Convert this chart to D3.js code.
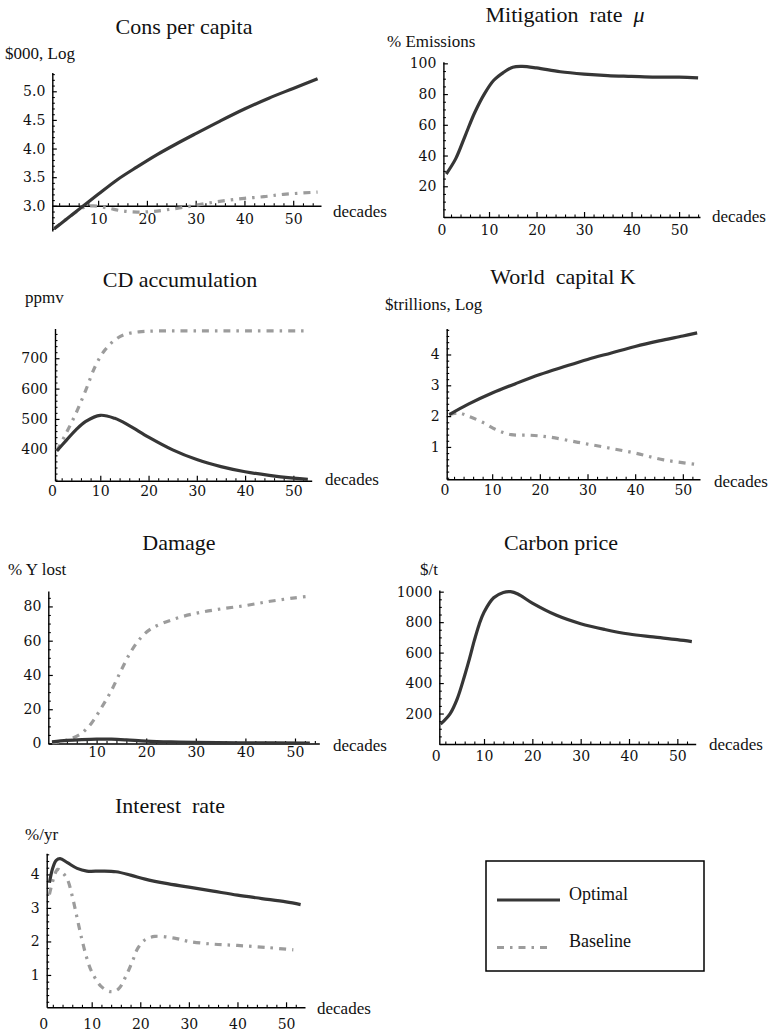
<!DOCTYPE html>
<html><head><meta charset="utf-8">
<script src="https://cdn.jsdelivr.net/npm/d3@7"></script>
<style>
body{margin:0;background:#fff}
text{font-family:"Liberation Serif","Times New Roman",serif;fill:#111}
text.tk{font-family:"DejaVu Serif",serif;font-size:14px;fill:#111}
</style>
</head><body>
<svg id="chart" width="768" height="1034"></svg>
<script>
// ---------------- DATA ----------------
// Panel 1: Consumption per capita ($000, log)
const consOptDecades = [1,4,7,10,14,18,22,26,30,35,40,45,50,55];
const consOptimal    = [2.6,2.8,3.0,3.2,3.46,3.68,3.89,4.08,4.26,4.48,4.69,4.88,5.05,5.22];
const consBaseDecades = [1,4,7,9,12,15,18,21,24,28,32,36,40,44,48,55];
const consBaseline    = [2.6,2.8,2.97,3.0,2.96,2.91,2.89,2.9,2.93,2.98,3.04,3.09,3.13,3.16,3.2,3.24];
const consYTicks = [3.0,3.5,4.0,4.5,5.0];

// Panel 2: Mitigation rate (% emissions)
const mitiDecades = [1,3,5,7,9,11,13,15,17,20,25,30,35,40,45,50,54];
const mitiOptimal = [28,38,53,68,80,89,94,97.5,98,97,94.5,93,92,91.5,91,91,90.5];
const mitiYTicks = [20,40,60,80,100];

// Panel 3: CO2 accumulation (ppmv)
const cdOptDecades = [1,3,5,7,10,13,16,20,25,30,35,40,45,50,53];
const cdOptimal    = [395,430,465,492,512,502,478,440,398,366,343,326,314,305,301];
const cdBaseDecades = [1,3,5,7,9,11,13,15,18,22,30,40,53];
const cdBaseline    = [395,455,520,595,675,728,760,778,787,790,790,790,790];
const cdYTicks = [400,500,600,700];

// Panel 4: World capital K ($trillions, log)
const kOptDecades = [1,5,10,15,20,25,30,35,40,45,50,53];
const kOptimal    = [2.05,2.39,2.75,3.06,3.35,3.6,3.84,4.05,4.26,4.44,4.6,4.7];
const kBaseDecades = [1,3,5,8,11,14,18,22,28,34,40,46,53];
const kBaseline    = [2.05,2.1,2.0,1.8,1.55,1.4,1.38,1.32,1.15,0.98,0.8,0.58,0.43];
const kYTicks = [1,2,3,4];

// Panel 5: Damage (% Y lost)
const dmgOptDecades = [1,4,7,10,13,16,20,25,30,40,53];
const dmgOptimal    = [1,1.8,2.3,2.6,2.5,2.1,1.4,0.9,0.6,0.4,0.3];
const dmgBaseDecades = [1,3,5,7,9,11,13,15,17,19,21,25,30,35,40,45,50,53];
const dmgBaseline    = [0.5,1.2,3,6,12,21,31,43,54,62,67,72,76,78.5,80.5,83,85,86];
const dmgYTicks = [0,20,40,60,80];

// Panel 6: Carbon price ($/t)
const cpDecades = [1,3,4.5,6,7,8,9,10,12,14,15.5,17,20,25,30,35,40,45,50,53];
const cpOptimal = [130,200,300,450,560,680,785,865,960,995,1000,985,925,845,790,752,722,703,685,672];
const cpYTicks = [200,400,600,800,1000];

// Panel 7: Interest rate (%/yr)
const irOptDecades = [1.3,2,2.7,3.5,5,7,9,12,15,18,21,25,30,35,40,45,50,53];
const irOptimal    = [3.75,4.2,4.42,4.47,4.35,4.18,4.1,4.1,4.08,3.98,3.86,3.74,3.62,3.5,3.38,3.28,3.18,3.1];
const irBaseDecades = [1.3,2.2,3,4,5,6,7,8,9,10,12,14,15.5,17,18.5,19.5,21,23,27,30,35,40,46,51.5];
const irBaseline    = [3.4,3.9,4.15,4.05,3.85,3.35,2.7,2.05,1.5,1.1,0.65,0.5,0.58,0.95,1.45,1.8,2.05,2.15,2.1,2.0,1.92,1.88,1.82,1.75];
const irYTicks = [1,2,3,4];

const xTicksAll = [0,10,20,30,40,50];
const xTicksNoZero = [10,20,30,40,50];
const seriesNames = ["Optimal","Baseline"];
const xAxisName = "decades";

// ---------------- LAYOUT ----------------
const zip = (xs, ys) => xs.map((d,i) => [d, ys[i]]);
const panels = [
  {title:"Cons per capita", unit:"$000, Log", tx:184, ty:34, ux:5, uy:59,
   xDom:[0.6,55.7], xRng:[52.3,321], yDom:[2.56,5.33], yRng:[231,72.4], xAt:3.0,
   yTicks:consYTicks, yMinor:0.1, yFmt:d3.format(".1f"), xTicks:xTicksNoZero, xPad:8, dx:333, dy:212,
   base:zip(consBaseDecades,consBaseline), opt:zip(consOptDecades,consOptimal)},
  {title:"Mitigation  rate  ", mu:true, unit:"% Emissions", tx:565, ty:22, ux:387, uy:47,
   xDom:[0.4,54.4], xRng:[443.4,700], yDom:[0,101], yRng:[217,61.8], xAt:0,
   yTicks:mitiYTicks, yMinor:5, yFmt:d3.format("d"), xTicks:xTicksAll, xPad:8, dx:712, dy:217,
   base:null, opt:zip(mitiDecades,mitiOptimal)},
  {title:"CD accumulation", unit:"ppmv", tx:180, ty:287, ux:25, uy:303,
   xDom:[0.62,53.8], xRng:[55,311.7], yDom:[296.5,798], yRng:[480.7,328.5], xAt:296.5,
   yTicks:cdYTicks, yMinor:20, yFmt:d3.format("d"), xTicks:xTicksAll, xPad:5, dx:325, dy:480,
   base:zip(cdBaseDecades,cdBaseline), opt:zip(cdOptDecades,cdOptimal)},
  {title:"World  capital K", unit:"$trillions, Log", tx:563, ty:284, ux:385, uy:310,
   xDom:[0.46,53.6], xRng:[446.7,700], yDom:[-0.05,4.84], yRng:[479.3,328.6], xAt:-0.05,
   yTicks:kYTicks, yMinor:0.2, yFmt:d3.format("d"), xTicks:xTicksAll, xPad:6, dx:714, dy:481.5,
   base:zip(kBaseDecades,kBaseline), opt:zip(kOptDecades,kOptimal)},
  {title:"Damage", unit:"% Y lost", tx:179, ty:550, ux:8, uy:575,
   xDom:[0.26,54.9], xRng:[48.3,319.3], yDom:[0,89], yRng:[743.5,591], xAt:0,
   yTicks:dmgYTicks, yMinor:5, yFmt:d3.format("d"), xTicks:xTicksNoZero, xPad:4, dx:333, dy:746,
   base:zip(dmgBaseDecades,dmgBaseline), opt:zip(dmgOptDecades,dmgOptimal)},
  {title:"Carbon price", unit:"$/t", tx:561, ty:550, ux:420, uy:575,
   xDom:[0.75,53.8], xRng:[439.3,695.7], yDom:[0,1011], yRng:[744,590], xAt:0,
   yTicks:cpYTicks, yMinor:50, yFmt:d3.format("d"), xTicks:xTicksAll, xPad:7, dx:709, dy:745,
   base:null, opt:zip(cpDecades,cpOptimal)},
  {title:"Interest  rate", unit:"%/yr", tx:170, ty:813, ux:25, uy:840,
   xDom:[0.74,53.9], xRng:[46.7,305], yDom:[0.035,4.63], yRng:[1007.3,853.3], xAt:0.035,
   yTicks:irYTicks, yMinor:0.2, yFmt:d3.format("d"), xTicks:xTicksAll, xPad:12, dx:317, dy:1009,
   base:zip(irBaseDecades,irBaseline), opt:zip(irOptDecades,irOptimal)}
];

const OPT_COLOR = "#363636", BASE_COLOR = "#9c9c9c";
const BASE_DASH = "7,6,2.5,6";
const svg = d3.select("#chart");
svg.append("rect").attr("width",768).attr("height",1034).attr("fill","#fff");

function styleAxis(g){
  g.select(".domain").attr("stroke","#000").attr("stroke-width",1.4);
  g.selectAll(".tick line").attr("stroke","#000").attr("stroke-width",1.2);
  g.selectAll(".tick text").attr("class","tk");
  g.attr("font-family",null).attr("font-size",null);
}

panels.forEach(p => {
  const g = svg.append("g");
  const x = d3.scaleLinear().domain(p.xDom).range(p.xRng);
  const y = d3.scaleLinear().domain(p.yDom).range(p.yRng);
  const ay = y(p.xAt);

  // minor x ticks every 2 decades
  const xMinor = d3.range(2, p.xDom[1], 2).filter(v => v % 10 !== 0 && v > p.xDom[0]);
  g.append("g").attr("transform",`translate(0,${ay})`)
    .call(d3.axisBottom(x).tickValues(xMinor).tickSizeInner(-2.5).tickSizeOuter(0).tickFormat(""))
    .call(s => { s.select(".domain").remove(); s.selectAll(".tick line").attr("stroke","#000").attr("stroke-width",1.1); });
  // major x
  const gx = g.append("g").attr("transform",`translate(0,${ay})`)
    .call(d3.axisBottom(x).tickValues(p.xTicks).tickSizeInner(-5).tickSizeOuter(0).tickPadding(p.xPad).tickFormat(d3.format("d")));
  gx.selectAll(".tick").filter(d => d < p.xDom[0]).select("line").remove();
  styleAxis(gx);

  // minor y ticks
  const step = p.yMinor;
  const yMinor = d3.range(Math.ceil(p.yDom[0]/step)*step, p.yDom[1], step)
    .map(v => +v.toFixed(4))
    .filter(v => !p.yTicks.some(t => Math.abs(t - v) < step/4));
  g.append("g").attr("transform",`translate(${p.xRng[0]},0)`)
    .call(d3.axisLeft(y).tickValues(yMinor).tickSizeInner(-2.5).tickSizeOuter(0).tickFormat(""))
    .call(s => { s.select(".domain").remove(); s.selectAll(".tick line").attr("stroke","#000").attr("stroke-width",1.1); });
  const gy = g.append("g").attr("transform",`translate(${p.xRng[0]},0)`)
    .call(d3.axisLeft(y).tickValues(p.yTicks).tickSizeInner(-4.5).tickSizeOuter(0).tickPadding(7).tickFormat(p.yFmt));
  styleAxis(gy);

  // lines
  const line = d3.line().x(d => x(d[0])).y(d => y(d[1])).curve(d3.curveCatmullRom.alpha(0.5));
  if (p.base) {
    g.append("path").datum(p.base).attr("d", line).attr("fill","none")
      .attr("stroke", BASE_COLOR).attr("stroke-width", 3.2).attr("stroke-dasharray", BASE_DASH);
  }
  g.append("path").datum(p.opt).attr("d", line).attr("fill","none")
    .attr("stroke", OPT_COLOR).attr("stroke-width", 3.2).attr("stroke-linejoin","round");

  // texts
  const t = g.append("text").attr("x", p.tx).attr("y", p.ty).attr("text-anchor","middle")
    .attr("font-size", 22).style("white-space","pre").text(p.title);
  if (p.mu) t.append("tspan").attr("font-style","italic").text("μ");
  g.append("text").attr("x", p.ux).attr("y", p.uy).attr("font-size", 17).text(p.unit);
  g.append("text").attr("x", p.dx).attr("y", p.dy).attr("dy","0.32em").attr("font-size", 17).text(xAxisName);
});

// legend
const lg = svg.append("g");
lg.append("rect").attr("x",486).attr("y",861).attr("width",218).attr("height",110)
  .attr("fill","#fff").attr("stroke","#000").attr("stroke-width",1.5);
const legendRows = [
  {name:seriesNames[0], color:OPT_COLOR, dash:null, ly:900, ty:900},
  {name:seriesNames[1], color:BASE_COLOR, dash:BASE_DASH, ly:947.5, ty:947}
];
legendRows.forEach(r => {
  lg.append("line").attr("x1",497).attr("x2", r.dash ? 553 : 560).attr("y1",r.ly).attr("y2",r.ly)
    .attr("stroke", r.color).attr("stroke-width",3).attr("stroke-dasharray", r.dash);
  lg.append("text").attr("x",569).attr("y",r.ty).attr("font-size",18).text(r.name);
});
</script>
</body></html>
